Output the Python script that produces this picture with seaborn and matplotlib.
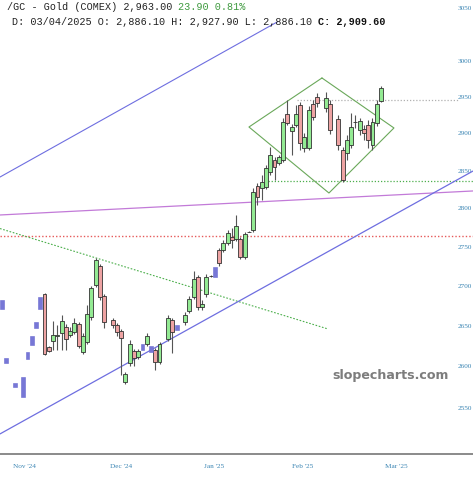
import matplotlib
matplotlib.use("Agg")
import matplotlib.pyplot as plt
import seaborn as sns
import pandas as pd
from matplotlib.ticker import FixedLocator, NullLocator

# ---------------- data ----------------
day = [0, 1, 3, 5, 6, 7, 8, 9,
       10, 11, 12, 13, 14, 15, 16, 17, 18, 19, 20, 21, 22, 23, 24,
       26, 27, 28, 29, 30, 31, 32, 33, 34, 35, 36, 37,
       39, 40, 41, 43, 44, 45, 46, 47, 48, 49, 50,
       51, 52, 53, 54, 55, 56, 57, 58, 59, 60, 61, 62, 63, 64, 65,
       66, 67, 68, 69, 70, 71, 72, 73, 74, 76, 77, 79, 80,
       81, 82, 83, 84, 85, 86, 87, 88, 89]
opens = [2682.3, 2610.4, 2580.0, 2587.3, 2617.8, 2637.5, 2654.8, 2686.1,
         2689.9, 2623.9, 2631.3, 2637.8, 2641.2, 2648.6, 2638.7, 2642.4, 2652.3, 2617.8, 2630.0, 2661.0, 2701.2, 2725.4, 2687.4,
         2657.3, 2651.1, 2643.7, 2581.2, 2604.3, 2619.0, 2611.6, 2627.6, 2627.6, 2625.2, 2620.2, 2605.5,
         2633.7, 2657.3, 2651.1, 2654.8, 2668.5, 2686.1, 2711.4, 2673.5, 2689.9, 2712.6, 2724.1,
         2745.9, 2745.9, 2754.9, 2762.7, 2760.1, 2760.1, 2737.0, 2769.1, 2771.8, 2829.5, 2826.9, 2828.2, 2848.1, 2864.2, 2860.2,
         2864.2, 2926.6, 2903.3, 2911.5, 2939.0, 2880.3, 2880.3, 2940.4, 2950.0, 2934.9, 2940.4, 2919.8, 2877.6,
         2873.6, 2884.4, 2915.5, 2904.7, 2906.1, 2911.5, 2884.4, 2914.3, 2944.5]
highs = [2682.3, 2610.4, 2580.0, 2587.3, 2617.8, 2637.5, 2654.8, 2686.1,
         2691.0, 2625.0, 2656.0, 2651.1, 2663.5, 2652.3, 2648.6, 2659.8, 2654.8, 2641.2, 2676.0, 2699.9, 2735.7, 2728.0, 2689.9,
         2659.8, 2653.6, 2646.1, 2593.4, 2632.5, 2621.4, 2621.4, 2627.6, 2641.2, 2625.2, 2622.7, 2630.0,
         2663.5, 2659.8, 2651.1, 2667.3, 2687.4, 2719.0, 2713.9, 2682.3, 2715.2, 2713.5, 2724.1,
         2748.5, 2758.8, 2771.8, 2774.4, 2791.3, 2762.7, 2769.2, 2770.0, 2826.9, 2833.5, 2844.1, 2857.5, 2881.7, 2868.2, 2870.9,
         2921.1, 2945.9, 2912.9, 2939.0, 2943.1, 2900.6, 2937.6, 2945.9, 2955.5, 2956.9, 2945.9, 2925.2, 2881.7,
         2897.9, 2927.9, 2925.2, 2921.1, 2911.5, 2918.4, 2921.1, 2945.9, 2965.2]
lows = [2671.0, 2604.3, 2575.2, 2563.1, 2609.2, 2626.4, 2647.4, 2671.0,
        2614.0, 2618.0, 2620.2, 2620.2, 2620.2, 2620.2, 2636.2, 2639.9, 2622.7, 2615.3, 2627.6, 2657.3, 2698.7, 2682.3, 2647.4,
        2647.4, 2637.5, 2589.7, 2578.8, 2600.7, 2600.7, 2609.2, 2620.2, 2625.2, 2617.8, 2595.8, 2603.1,
        2631.3, 2616.5, 2644.9, 2651.1, 2666.0, 2683.6, 2669.8, 2669.8, 2686.1, 2711.8, 2711.4,
        2725.4, 2743.3, 2752.4, 2748.5, 2757.5, 2734.4, 2734.4, 2768.5, 2769.2, 2804.4, 2811.0, 2825.5, 2844.1, 2837.5, 2857.5,
        2861.5, 2911.5, 2870.9, 2908.7, 2877.6, 2874.9, 2877.6, 2918.4, 2936.3, 2929.4, 2899.3, 2877.6, 2834.8,
        2864.2, 2880.3, 2907.4, 2897.9, 2891.2, 2880.3, 2877.6, 2910.1, 2943.1]
closes = [2671.0, 2604.3, 2575.2, 2563.1, 2609.2, 2626.4, 2647.4, 2671.0,
          2615.3, 2619.0, 2638.7, 2638.2, 2656.0, 2633.7, 2643.7, 2653.6, 2625.2, 2637.5, 2664.8, 2697.4, 2733.1, 2686.1, 2654.8,
          2651.1, 2642.4, 2635.0, 2591.0, 2627.6, 2610.4, 2619.0, 2620.2, 2637.5, 2617.8, 2605.5, 2627.6,
          2659.8, 2642.4, 2644.9, 2663.5, 2683.6, 2708.9, 2673.5, 2677.3, 2711.4, 2712.9, 2711.4,
          2729.3, 2754.9, 2767.9, 2758.8, 2777.0, 2737.0, 2766.6, 2769.4, 2821.6, 2814.9, 2834.8, 2853.5, 2870.9, 2854.8, 2868.2,
          2915.6, 2914.3, 2908.7, 2926.6, 2887.1, 2895.2, 2932.1, 2922.4, 2941.7, 2948.6, 2904.7, 2884.4, 2837.5,
          2891.2, 2908.7, 2915.8, 2917.0, 2900.6, 2891.2, 2915.6, 2940.4, 2963.0]
blue_days = [0, 1, 3, 5, 6, 7, 8, 9, 33, 35, 41, 50]

month_pos = [5.19, 27.96, 49.9, 70.68, 92.51]
month_labels = ["Nov '24", "Dec '24", "Jan '25", "Feb '25", "Mar '25"]
price_ticks = [2550, 2600, 2650, 2700, 2750, 2800, 2850, 2900, 2950, 3000]

# drawn studies (day, price)
upper_channel = ([-0.45, 64.6], [2841.4, 3055.5])
lower_channel = ([-0.45, 110.6], [2519.1, 2849.4])
purple_line = ([-0.45, 110.6], [2791.3, 2822.9])
green_desc = ([-0.45, 76.55], [2773.6, 2646.1])
red_level = ([-0.45, 110.6], [2763.3, 2763.3])
green_level = ([62.46, 110.6], [2836.1, 2836.1])
grey_level = ([69.27, 107.07], [2946.5, 2946.5])
diamond = ([75.14, 92.04, 76.78, 58.0, 75.14], [2976.4, 2907.5, 2820.2, 2908.8, 2976.4])

# ---------------- figure ----------------
sns.set_style("white")
fig = plt.figure(figsize=(4.73, 4.80), dpi=100)
ax = fig.add_axes([0, 26 / 480, 1, 454 / 480])

df = pd.DataFrame(dict(day=day, open=opens, high=highs, low=lows, close=closes))
df["blue"] = df["day"].isin(blue_days)
df["up"] = df["close"] >= df["open"]

def seg(pts, color, lw=0.8, ls="-", z=2):
    d = pd.DataFrame({"x": pts[0], "y": pts[1]})
    sns.lineplot(data=d, x="x", y="y", ax=ax, color=color, lw=lw, ls=ls,
                 sort=False, estimator=None, zorder=z)

seg(red_level, "#e65a5a", 1.0, (0, (1, 1.5)))
seg(green_level, "#4caf4c", 0.9, (0, (1, 1.5)))
seg(grey_level, "#b0b0b0", 0.9, (0, (1, 1.5)))
seg(green_desc, "#4caf4c", 0.8, (0, (1.5, 1.5)))
seg(purple_line, "#c27ad8", 0.9)
seg(upper_channel, "#6e6ee0", 0.8)
seg(lower_channel, "#6e6ee0", 0.9)
seg(diamond, "#6aa85a", 0.8)

# candles
norm = df[~df["blue"]]
ax.vlines(norm["day"], norm["low"], norm["high"], color="#555555", lw=0.8, zorder=3)
bot = norm[["open", "close"]].min(axis=1)
top = norm[["open", "close"]].max(axis=1)
cols = ["#93ea93" if u else "#eea3a3" for u in norm["up"]]
ax.bar(norm["day"], top - bot, bottom=bot, width=0.92, color=cols,
       edgecolor="#333333", linewidth=0.6, zorder=4)
bl = df[df["blue"]]
bb = bl[["open", "close"]].min(axis=1)
bt = bl[["open", "close"]].max(axis=1)
ax.bar(bl["day"], bt - bb, bottom=bb, width=0.92, color="#7777d6",
       edgecolor="#6a6ad0", linewidth=0.4, zorder=4)

ax.set_yscale("log")
ax.set_ylim(2495.5, 3087.2)
ax.set_xlim(-0.45, 110.6)
ax.yaxis.set_major_locator(FixedLocator(price_ticks))
ax.yaxis.set_minor_locator(NullLocator())
ax.set_yticklabels([str(t) for t in price_ticks])
ax.yaxis.tick_right()
ax.tick_params(axis="y", length=0, pad=-10.8, labelsize=5.2, labelcolor="#3c86b4")
ax.set_xticks(month_pos)
ax.set_xticklabels(month_labels)
ax.tick_params(axis="x", length=0, pad=7.0, labelsize=5.2, labelcolor="#3c86b4")
for lab in ax.get_xticklabels() + ax.get_yticklabels():
    lab.set_family("Liberation Serif")
ax.text(458 / 473, 1 - 8 / 454, "3050", transform=ax.transAxes, ha="left",
        va="center", fontsize=5.2, color="#3c86b4", family="Liberation Serif")
ax.set_xlabel("")
ax.set_ylabel("")
for s in ["top", "left", "right"]:
    ax.spines[s].set_visible(False)
ax.spines["bottom"].set_color("#8a8a8a")
ax.spines["bottom"].set_linewidth(1.4)

ax.text(391 / 473, 1 - 376 / 454, "slopecharts.com", transform=ax.transAxes,
        ha="center", va="center", fontsize=9.1, fontweight="bold", color="#7d7d7d",
        family="DejaVu Sans", zorder=6)

# header
mono = "Liberation Mono"
t1 = fig.text(7 / 473, 1 - 7 / 480, "/GC - Gold (COMEX) 2,963.00 ", family=mono,
              fontsize=7.3, color="#222222", va="center", ha="left")
ax.annotate("23.90 0.81%", xy=(1, 0.5), xycoords=t1, va="center", ha="left",
            family=mono, fontsize=7.3, color="#3e9a3e")
t2 = fig.text(12 / 473, 1 - 22 / 480, "D: 03/04/2025 O: 2,886.10 H: 2,927.90 L: 2,886.10 ",
              family=mono, fontsize=7.3, color="#222222", va="center", ha="left")
ax.annotate("C: 2,909.60", xy=(1, 0.5), xycoords=t2, va="center", ha="left",
            family=mono, fontsize=7.3, color="#111111", fontweight="bold")

fig.savefig("out.png", dpi=100)
